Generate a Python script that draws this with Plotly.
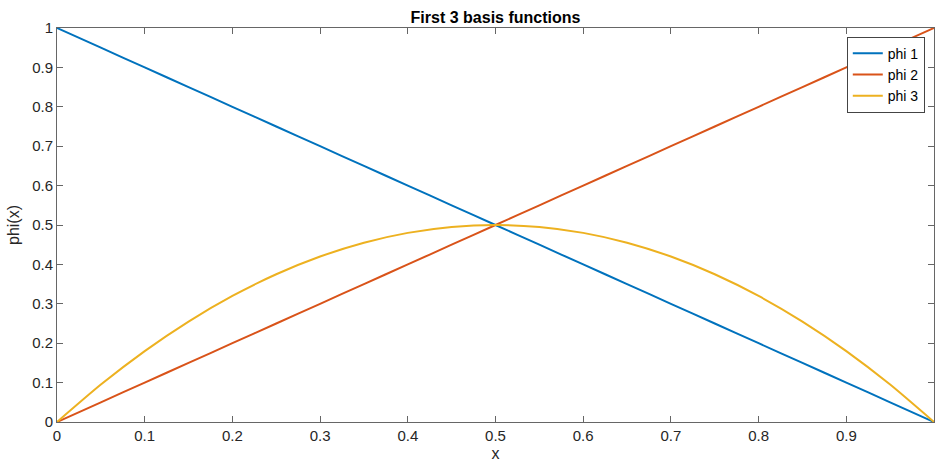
import plotly.graph_objects as go

x_vals = [0, 0.05, 0.1, 0.15, 0.2, 0.25, 0.3, 0.35, 0.4, 0.45, 0.5,
          0.55, 0.6, 0.65, 0.7, 0.75, 0.8, 0.85, 0.9, 0.95, 1.0]
phi1 = [1.0, 0.95, 0.9, 0.85, 0.8, 0.75, 0.7, 0.65, 0.6, 0.55, 0.5,
        0.45, 0.4, 0.35, 0.3, 0.25, 0.2, 0.15, 0.1, 0.05, 0.0]
phi2 = [0.0, 0.05, 0.1, 0.15, 0.2, 0.25, 0.3, 0.35, 0.4, 0.45, 0.5,
        0.55, 0.6, 0.65, 0.7, 0.75, 0.8, 0.85, 0.9, 0.95, 1.0]
phi3 = [0.0, 0.095, 0.18, 0.255, 0.32, 0.375, 0.42, 0.455, 0.48, 0.495, 0.5,
        0.495, 0.48, 0.455, 0.42, 0.375, 0.32, 0.255, 0.18, 0.095, 0.0]
names = ["phi 1", "phi 2", "phi 3"]
colors = ["#0072BD", "#D95319", "#EDB120"]
tick_vals = [0, 0.1, 0.2, 0.3, 0.4, 0.5, 0.6, 0.7, 0.8, 0.9, 1.0]
tick_text = ["0", "0.1", "0.2", "0.3", "0.4", "0.5", "0.6", "0.7", "0.8", "0.9", "1"]

fig = go.Figure()
for ys, n, c in zip([phi1, phi2, phi3], names, colors):
    fig.add_trace(go.Scatter(x=x_vals, y=ys, mode="lines", name=n,
                             line=dict(color=c, width=2, shape="spline", smoothing=0.6)))

axis_common = dict(showline=True, linecolor="#666", linewidth=1, mirror="ticks",
                   ticks="inside", ticklen=6, tickcolor="#666", showgrid=False,
                   zeroline=False, automargin=False,
                   tickfont=dict(size=15, color="#262626"))

fig.update_layout(
    width=935, height=468,
    margin=dict(l=57, r=1, t=28, b=46, autoexpand=False),
    paper_bgcolor="white", plot_bgcolor="white",
    font=dict(family="Liberation Sans, Arial, sans-serif", color="#262626"),
    title=dict(text="<b>First 3 basis functions</b>", x=0.5, xref="paper", xanchor="center",
               y=0.975, yref="container", font=dict(size=16, color="#000")),
    xaxis=dict(range=[0, 1], tickvals=tick_vals, ticktext=tick_text,
               title=dict(text="x", font=dict(size=16), standoff=4), **axis_common),
    yaxis=dict(range=[0, 1], tickvals=tick_vals, ticktext=tick_text,
               title=dict(text="phi(x)", font=dict(size=16), standoff=8), **axis_common),
    legend=dict(x=0.9895, y=0.978, xanchor="right", yanchor="top",
                bgcolor="white", bordercolor="#444", borderwidth=1,
                font=dict(size=14, color="#000"), tracegroupgap=0, itemwidth=30),
    showlegend=True,
)

fig.write_html("out.html", config={"displayModeBar": False},
               post_script="document.body.style.margin='0';document.body.style.overflow='hidden';")
